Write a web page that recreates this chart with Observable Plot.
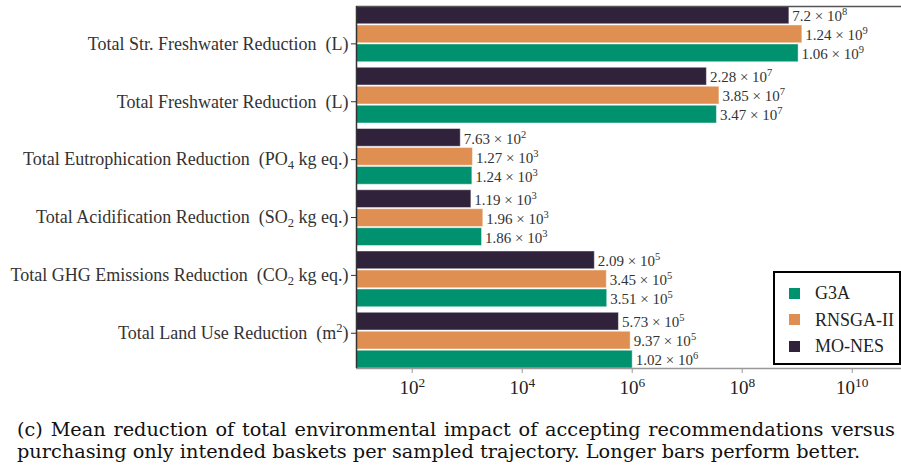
<!DOCTYPE html>
<html>
<head>
<meta charset="utf-8">
<script src="https://cdn.jsdelivr.net/npm/d3@7"></script>
<script src="https://cdn.jsdelivr.net/npm/@observablehq/plot@0.6"></script>
<style>
  body { margin: 0; background: #fff; }
  #wrap { position: relative; width: 901px; height: 467px; overflow: hidden; }
  #wrap svg text { white-space: pre; }
  .legend { position: absolute; left: 773px; top: 271px; width: 128px; height: 94px;
            border: 2px solid #000; background: #fff; box-sizing: border-box;
            font-family: "Liberation Serif", "Times New Roman", serif; font-size: 18px; color: #222; }
  .legend .item { position: absolute; left: 14px; height: 20px; line-height: 20px; display: flex; align-items: center;
                  font-family: "Liberation Serif", "Times New Roman", serif; }
  .legend .sw { width: 11px; height: 11px; margin-right: 15px; }
  .caption { position: absolute; left: 17px; top: 419px; width: 878px;
             font-family: "DejaVu Serif", serif; font-size: 19.3px; line-height: 22px; color: #111; }
  .caption .l1 { text-align: justify; text-align-last: justify; }
</style>
</head>
<body>
<div id="wrap"></div>
<script>
// Impact categories, top to bottom ("_n" marks a subscript, "^n" a superscript)
const categories = [
  "Total Str. Freshwater Reduction  (L)",
  "Total Freshwater Reduction  (L)",
  "Total Eutrophication Reduction  (PO_4 kg eq.)",
  "Total Acidification Reduction  (SO_2 kg eq.)",
  "Total GHG Emissions Reduction  (CO_2 kg eq.)",
  "Total Land Use Reduction  (m^2)"
];

// Mean reduction per method, same order as categories
const g3a   = [1.06e9, 3.47e7, 1.24e3, 1.86e3, 3.51e5, 1.02e6];
const rnsga = [1.24e9, 3.85e7, 1.27e3, 1.96e3, 3.45e5, 9.37e5];
const mones = [7.2e8, 2.28e7, 7.63e2, 1.19e3, 2.09e5, 5.73e5];

const methods = ["G3A", "RNSGA-II", "MO-NES"];
const colors  = ["#00916e", "#de8f51", "#30223b"];

const xTicks = [1e2, 1e4, 1e6, 1e8, 1e10];

// Bar stacking inside a group: MO-NES on top, G3A at the bottom
const series = [["MO-NES", mones], ["RNSGA-II", rnsga], ["G3A", g3a]];
const slot = 0.31, barH = 0.29;
const tickStart = 0.61, tickStep = 0.945;
const yMax = (categories.length - 1) + 2 * slot + barH;
const xMin = 10 ** 0.987, xMax = 10 ** 10.896;

const rows = [];
categories.forEach((c, i) => {
  series.forEach(([m, arr], j) => {
    rows.push({category: c, method: m, value: arr[i], y1: i + j * slot, y2: i + j * slot + barH});
  });
});

const tickPos = categories.map((c, i) => tickStart + tickStep * i);
const labelAt = new Map(tickPos.map((p, i) => [p, categories[i]]));

function sci(v) {
  const e = Math.floor(Math.log10(v));
  const m = +(v / 10 ** e).toPrecision(3);
  return `${m} \u00d7 10^${e}`;
}

const colorOf = new Map(methods.map((m, i) => [m, colors[i]]));

const chart = Plot.plot({
  width: 901,
  height: 410,
  marginLeft: 356,
  marginRight: 0,
  marginTop: 6,
  marginBottom: 42,
  style: {fontFamily: "Liberation Serif, serif", background: "white", color: "#333", overflow: "visible"},
  x: {type: "log", domain: [xMin, xMax]},
  y: {domain: [0, yMax], reverse: true},
  marks: [
    Plot.rect(rows, {
      x1: () => xMin, x2: "value", y1: "y1", y2: "y2",
      fill: d => colorOf.get(d.method),
      stroke: "white", strokeOpacity: 0.45, strokeWidth: 1
    }),
    Plot.text(rows, {
      x: "value", y: d => (d.y1 + d.y2) / 2,
      text: d => sci(d.value),
      textAnchor: "start", dx: 3, dy: 1, fontSize: 15, fill: "#333"
    }),
    Plot.axisY(tickPos, {
      tickFormat: d => labelAt.get(d),
      tickSize: 5, tickPadding: 3, fontSize: 18, label: null, stroke: "#333"
    }),
    Plot.axisX(xTicks, {
      tickFormat: d => "10^" + Math.round(Math.log10(d)),
      tickSize: 5, tickPadding: 7, fontSize: 19, label: null, stroke: "#999", fill: "#222"
    }),
    Plot.ruleY([yMax], {stroke: "#999", strokeWidth: 1.5}),
    Plot.ruleY([0], {stroke: "#555", strokeWidth: 1.5}),
    Plot.ruleX([xMin], {stroke: "#333", strokeWidth: 1.5})
  ]
});

// Turn "^n" / "_n" markup into raised / lowered tspans
const SVGNS = "http://www.w3.org/2000/svg";
function span(txt) { const s = document.createElementNS(SVGNS, "tspan"); s.textContent = txt; return s; }
chart.querySelectorAll("text").forEach(t => {
  const s = t.textContent;
  if (!/[\^_]\d/.test(s)) return;
  t.textContent = "";
  const re = /([\^_])(\d+)/g;
  let last = 0, m;
  while ((m = re.exec(s))) {
    if (m.index > last) t.appendChild(span(s.slice(last, m.index)));
    const sp = span(m[2]);
    sp.setAttribute("font-size", "70%");
    sp.setAttribute("baseline-shift", m[1] === "^" ? "0.55em" : "-0.35em");
    t.appendChild(sp);
    last = re.lastIndex;
  }
  if (last < s.length) t.appendChild(span(s.slice(last)));
});

const wrap = document.getElementById("wrap");
wrap.appendChild(chart);

// Legend box inside the plot area
const legend = document.createElement("div");
legend.className = "legend";
const legendOrder = ["G3A", "RNSGA-II", "MO-NES"];
legendOrder.forEach((m, i) => {
  const item = document.createElement("div");
  item.className = "item";
  item.style.top = (10 + i * 26.5) + "px";
  const sw = document.createElement("span");
  sw.className = "sw";
  sw.style.background = colorOf.get(m);
  const t = document.createElement("span");
  t.textContent = m;
  item.appendChild(sw);
  item.appendChild(t);
  legend.appendChild(item);
});
wrap.appendChild(legend);

// Caption
const caption = document.createElement("div");
caption.className = "caption";
caption.innerHTML =
  '<div class="l1">(c) Mean reduction of total environmental impact of accepting recommendations versus</div>' +
  '<div class="l2">purchasing only intended baskets per sampled trajectory. Longer bars perform better.</div>';
wrap.appendChild(caption);
</script>
</body>
</html>
